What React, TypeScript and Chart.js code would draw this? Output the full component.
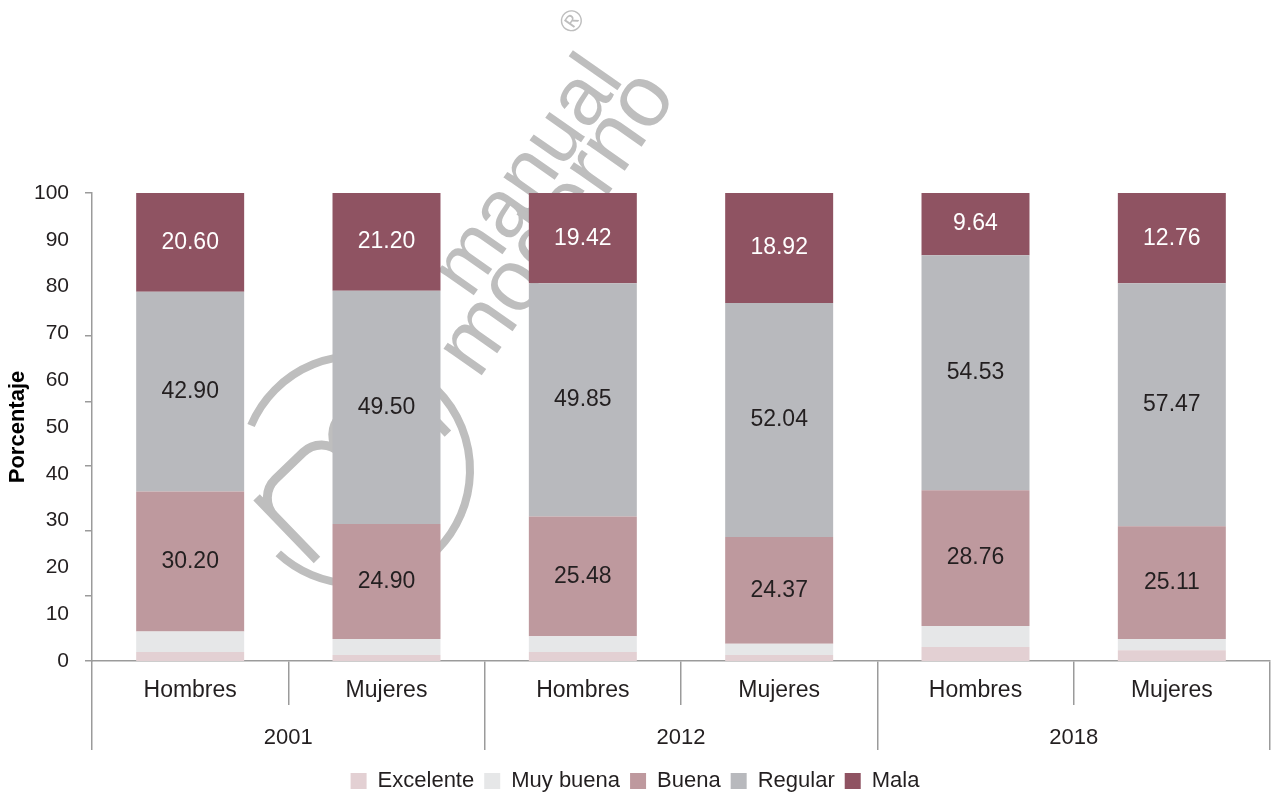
import React, { useEffect, useRef } from 'react';
import { Chart, registerables } from 'chart.js';

Chart.register(...registerables);

const FONT = '"Liberation Sans", Arial, Helvetica, sans-serif';
Chart.defaults.font.family = FONT;

// Categories
const groups = ['Hombres', 'Mujeres', 'Hombres', 'Mujeres', 'Hombres', 'Mujeres'];
const years = ['2001', '2012', '2018'];

// Segment heights as drawn in the picture (percent)
const excelente = [1.9, 1.3, 1.9, 1.3, 3.0, 2.3];
const muyBuena = [4.4, 3.4, 3.4, 2.4, 4.5, 2.4];
const buena = [29.9, 24.6, 25.6, 22.8, 29.0, 24.1];
const regular = [42.7, 49.8, 49.8, 50.0, 50.2, 51.9];
const mala = [21.1, 20.9, 19.3, 23.5, 13.3, 19.3];

// Printed value labels
const buenaLabels = ['30.20', '24.90', '25.48', '24.37', '28.76', '25.11'];
const regularLabels = ['42.90', '49.50', '49.85', '52.04', '54.53', '57.47'];
const malaLabels = ['20.60', '21.20', '19.42', '18.92', '9.64', '12.76'];

// Y axis: labelled values and the (irregular) tick-mark values seen on the axis
const yLabelValues = [0, 10, 20, 30, 40, 50, 60, 70, 80, 90, 100];
const yTickMarks = [0, 13.9, 27.8, 41.7, 55.5, 69.4, 100];

const seriesNames = ['Excelente', 'Muy buena', 'Buena', 'Regular', 'Mala'];
const seriesColors = ['#E3D0D3', '#E6E7E8', '#BE999E', '#B8B9BD', '#8F5362'];

const TEXT = '#231F20';
const AXIS = '#9b9b9b';
const WM = '#bebebe';

const watermarkPlugin = {
  id: 'watermark',
  beforeDatasetsDraw(chart: any) {
    const ctx = chart.ctx as CanvasRenderingContext2D;
    ctx.save();
    ctx.fillStyle = WM;
    ctx.strokeStyle = WM;
    const d2r = Math.PI / 180;

    // circle of the logo
    ctx.lineWidth = 8;
    ctx.beginPath();
    ctx.arc(356, 470, 114, 203 * d2r, 133 * d2r, false);
    ctx.stroke();

    // big "m" of the logo
    ctx.save();
    ctx.translate(317, 560);
    ctx.rotate(-44 * d2r);
    ctx.lineWidth = 9;
    ctx.lineCap = 'butt';
    const s = 91, h = 87, rc = 26;
    ctx.beginPath();
    ctx.moveTo(0, 0);
    ctx.lineTo(0, -h);
    for (let k = 0; k < 2; k++) {
      const x0 = k * s;
      ctx.moveTo(x0, -h + rc);
      ctx.arc(x0 + rc, -h + rc, rc, Math.PI, 1.5 * Math.PI, false);
      ctx.lineTo(x0 + s - rc, -h);
      ctx.arc(x0 + s - rc, -h + rc, rc, 1.5 * Math.PI, 2 * Math.PI, false);
      ctx.lineTo(x0 + s, 0);
    }
    ctx.stroke();
    ctx.restore();

    // words
    ctx.textAlign = 'center';
    ctx.textBaseline = 'middle';
    ctx.save();
    ctx.translate(529, 177);
    ctx.rotate(-55 * d2r);
    ctx.font = `82px ${FONT}`;
    ctx.fillText('manual', 0, 0);
    ctx.restore();

    ctx.save();
    ctx.translate(558, 224);
    ctx.rotate(-55 * d2r);
    ctx.font = `88px ${FONT}`;
    ctx.fillText('moderno', 0, 0);
    ctx.restore();

    ctx.save();
    ctx.translate(573, 22);
    ctx.rotate(-55 * d2r);
    ctx.font = `30px ${FONT}`;
    ctx.fillText('\u00AE', 0, 0);
    ctx.restore();

    ctx.restore();
  },
};

const labelPlugin = {
  id: 'segmentLabels',
  afterDatasetsDraw(chart: any) {
    const ctx = chart.ctx as CanvasRenderingContext2D;
    const sets: [number, string[], string][] = [
      [2, buenaLabels, TEXT],
      [3, regularLabels, TEXT],
      [4, malaLabels, '#ffffff'],
    ];
    ctx.save();
    ctx.font = `23px ${FONT}`;
    ctx.textAlign = 'center';
    ctx.textBaseline = 'middle';
    sets.forEach(([idx, labels, color]) => {
      const meta = chart.getDatasetMeta(idx);
      ctx.fillStyle = color;
      meta.data.forEach((bar: any, i: number) => {
        const { x, y, base } = bar.getProps(['x', 'y', 'base'], true);
        ctx.fillText(labels[i], x, (y + base) / 2);
      });
    });
    ctx.restore();
  },
};

export default function App() {
  const canvasRef = useRef<HTMLCanvasElement | null>(null);

  useEffect(() => {
    document.body.style.margin = '0';
    document.body.style.overflow = 'hidden';
    const canvas = canvasRef.current;
    if (!canvas) return;
    const series = [excelente, muyBuena, buena, regular, mala];
    const chart = new Chart(canvas, {
      type: 'bar',
      data: {
        labels: groups,
        datasets: series.map((data, i) => ({
          label: seriesNames[i],
          data,
          backgroundColor: seriesColors[i],
          borderWidth: 0,
          xAxisID: 'x',
          yAxisID: 'y',
        })),
      },
      options: {
        responsive: false,
        animation: false,
        devicePixelRatio: 1,
        layout: { padding: { top: 193, left: 0, right: 2, bottom: 0 } },
        datasets: { bar: { categoryPercentage: 1, barPercentage: 0.55 } },
        plugins: {
          legend: {
            position: 'bottom',
            labels: {
              boxWidth: 16,
              boxHeight: 16,
              padding: 10,
              color: TEXT,
              font: { size: 22, family: FONT },
            },
          },
          tooltip: { enabled: false },
        },
        scales: {
          x: {
            type: 'category',
            stacked: true,
            position: 'bottom',
            weight: 1,
            offset: true,
            grid: {
              offset: true,
              drawOnChartArea: false,
              tickLength: 44,
              color: AXIS,
              lineWidth: 1.5,
            },
            border: { color: AXIS, width: 1.5 },
            ticks: {
              font: { size: 23, family: FONT },
              color: TEXT,
              padding: -28,
              maxRotation: 0,
              autoSkip: false,
            },
            afterFit: (s: any) => {
              s.height = 44;
            },
          },
          x2: {
            type: 'category',
            labels: years,
            position: 'bottom',
            weight: 2,
            offset: true,
            grid: {
              offset: true,
              drawOnChartArea: false,
              tickLength: 45,
              color: AXIS,
              lineWidth: 1.5,
            },
            border: { display: false },
            ticks: {
              font: { size: 22, family: FONT },
              color: TEXT,
              padding: -25,
              maxRotation: 0,
              autoSkip: false,
            },
            afterFit: (s: any) => {
              s.height = 55;
            },
          },
          y: {
            stacked: true,
            position: 'left',
            weight: 2,
            min: 0,
            max: 100,
            afterBuildTicks: (s: any) => {
              s.ticks = yLabelValues.map((v) => ({ value: v }));
            },
            ticks: {
              padding: 15,
              color: TEXT,
              font: { size: 21, family: FONT },
            },
            grid: { display: false },
            border: { color: AXIS, width: 1.5 },
            title: {
              display: true,
              text: 'Porcentaje',
              color: '#000000',
              font: { size: 22, weight: 'bold', family: FONT },
              padding: { top: 5, bottom: 0 },
            },
            afterFit: (s: any) => {
              s.width = 92;
            },
          },
          yMarks: {
            type: 'linear',
            position: 'left',
            weight: 1,
            min: 0,
            max: 100,
            afterBuildTicks: (s: any) => {
              s.ticks = yTickMarks.map((v) => ({ value: v }));
            },
            ticks: { display: false },
            grid: {
              drawOnChartArea: false,
              tickLength: 7,
              color: AXIS,
              lineWidth: 1.5,
            },
            border: { display: false },
            afterFit: (s: any) => {
              s.width = 0;
            },
          },
        },
      } as any,
      plugins: [watermarkPlugin, labelPlugin],
    });
    return () => chart.destroy();
  }, []);

  return (
    <div style={{ width: 1272, height: 795, overflow: 'hidden', position: 'relative' }}>
      <canvas ref={canvasRef} width={1272} height={802} style={{ display: 'block' }} />
    </div>
  );
}
